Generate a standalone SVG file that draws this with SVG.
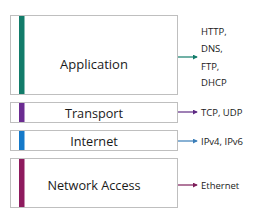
<svg xmlns="http://www.w3.org/2000/svg" width="271" height="219" viewBox="0 0 271 219">
<defs>
<style>
.box{fill:#fff;stroke:#bfbfbf;stroke-width:1}
.lbl{font-family:"Open Sans","Liberation Sans",sans-serif;fill:#1a1a1a;text-anchor:middle;dominant-baseline:central}
.side{font-family:"Open Sans","Liberation Sans",sans-serif;fill:#1a1a1a;font-size:9.5px;dominant-baseline:central}
.conn{fill:none;stroke-width:1.2}
</style>
<marker id="ah-teal" viewBox="0 0 6 6" refX="5" refY="3" markerWidth="5" markerHeight="5" orient="auto" markerUnits="userSpaceOnUse"><path d="M0,0L6,3L0,6z" fill="#127C6A"/></marker>
<marker id="ah-purple" viewBox="0 0 6 6" refX="5" refY="3" markerWidth="5" markerHeight="5" orient="auto" markerUnits="userSpaceOnUse"><path d="M0,0L6,3L0,6z" fill="#5E2A84"/></marker>
<marker id="ah-blue" viewBox="0 0 6 6" refX="5" refY="3" markerWidth="5" markerHeight="5" orient="auto" markerUnits="userSpaceOnUse"><path d="M0,0L6,3L0,6z" fill="#3A7DB8"/></marker>
<marker id="ah-maroon" viewBox="0 0 6 6" refX="5" refY="3" markerWidth="5" markerHeight="5" orient="auto" markerUnits="userSpaceOnUse"><path d="M0,0L6,3L0,6z" fill="#7E1E5A"/></marker>
</defs>
<rect width="271" height="219" fill="#fff"/>
<g id="application">
<rect class="box" x="10.5" y="15.5" width="167" height="79"/>
<rect x="19" y="16" width="5.5" height="78" fill="#127C6A"/>
<text class="lbl" x="94" y="64" font-size="13">Application</text>
</g>
<g id="transport">
<rect class="box" x="10.5" y="102.5" width="167" height="20"/>
<rect x="19" y="103" width="5.5" height="19" fill="#6B2C91"/>
<text class="lbl" x="94" y="113" font-size="12.7">Transport</text>
</g>
<g id="internet">
<rect class="box" x="10.5" y="130.5" width="167" height="20"/>
<rect x="19" y="131" width="5.5" height="19" fill="#1479C9"/>
<text class="lbl" x="94" y="141" font-size="12.7">Internet</text>
</g>
<g id="network-access">
<rect class="box" x="10.5" y="158.5" width="167" height="49"/>
<rect x="19" y="159" width="5.5" height="48" fill="#8E1B5E"/>
<text class="lbl" x="94" y="185" font-size="12.7">Network Access</text>
</g>
<g id="connectors">
<line class="conn" x1="178" y1="57" x2="197" y2="57" stroke="#127C6A" marker-end="url(#ah-teal)"/>
<line class="conn" x1="178" y1="112" x2="197" y2="112" stroke="#5E2A84" marker-end="url(#ah-purple)"/>
<line class="conn" x1="178" y1="141" x2="197" y2="141" stroke="#3A7DB8" marker-end="url(#ah-blue)"/>
<line class="conn" x1="178" y1="185" x2="197" y2="185" stroke="#7E1E5A" marker-end="url(#ah-maroon)"/>
</g>
<g id="labels">
<text class="side" x="201" y="31">HTTP,</text>
<text class="side" x="201" y="48">DNS,</text>
<text class="side" x="201" y="66">FTP,</text>
<text class="side" x="201" y="82">DHCP</text>
<text class="side" x="201" y="112">TCP, UDP</text>
<text class="side" x="201" y="141">IPv4, IPv6</text>
<text class="side" x="201" y="185">Ethernet</text>
</g>
</svg>
